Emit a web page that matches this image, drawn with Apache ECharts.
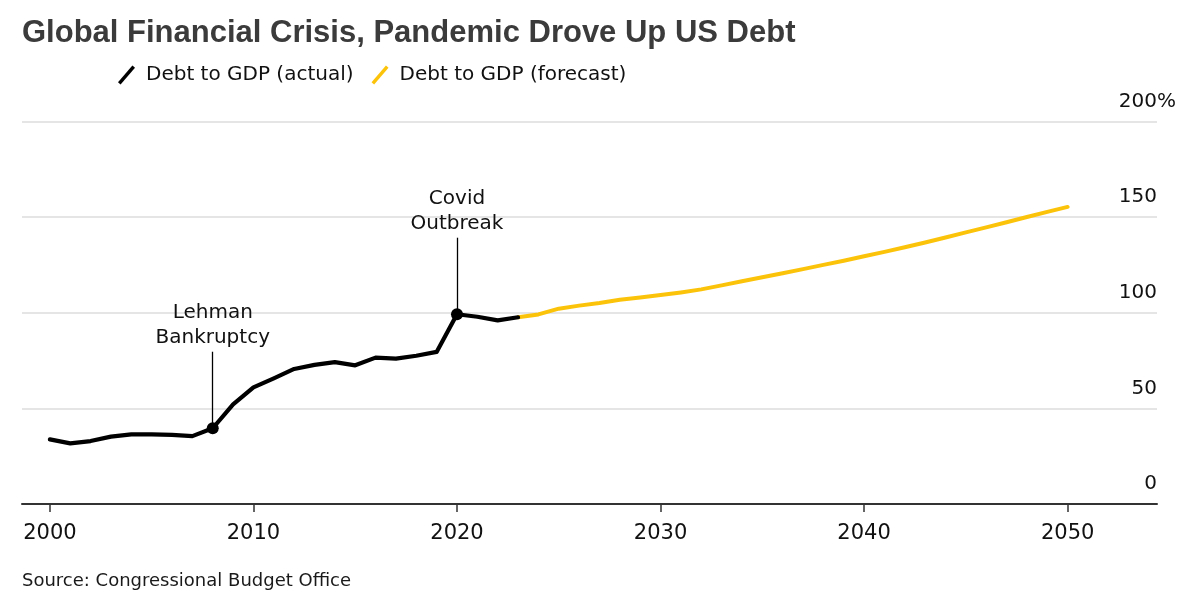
<!DOCTYPE html>
<html>
<head>
<meta charset="utf-8">
<script src="https://cdn.jsdelivr.net/npm/echarts@6/dist/echarts.min.js"></script>
<style>
html,body{margin:0;padding:0;background:#ffffff;}
#chart{width:1200px;height:604px;}
</style>
</head>
<body>
<div id="chart"></div>
<script>
// ---- data ----
const actualYears = [2000,2001,2002,2003,2004,2005,2006,2007,2008,2009,2010,2011,2012,2013,2014,2015,2016,2017,2018,2019,2020,2021,2022,2023];
const actualDebt  = [33.8,31.7,32.9,35.2,36.4,36.4,36.1,35.5,39.6,52.1,61.0,65.7,70.6,72.7,74.2,72.5,76.5,76.0,77.5,79.5,99.2,97.9,96.0,97.6];
const forecastYears = [2023,2024,2025,2026,2027,2028,2029,2030,2031,2032,2033,2034,2035,2036,2037,2038,2039,2040,2041,2042,2043,2044,2045,2046,2047,2048,2049,2050];
const forecastDebt  = [97.6,99.1,102.1,103.7,105.1,106.8,107.9,109.2,110.6,112.2,114.3,116.4,118.5,120.6,122.8,125.0,127.2,129.5,131.8,134.2,136.7,139.3,142.0,144.6,147.3,150.0,152.7,155.3];
const xTickYears = [2000,2010,2020,2030,2040,2050];
const seriesNames = ['Debt to GDP (actual)', 'Debt to GDP (forecast)'];
const eventYears = [2008, 2020];
const eventLabels = ['Lehman\nBankruptcy', 'Covid\nOutbreak'];

// ---- chart ----
const BODY_FONT = "'DejaVu Sans', sans-serif";
const chart = echarts.init(document.getElementById('chart'), null, {renderer: 'canvas'});

const pairs = (xs, ys) => xs.map((x, i) => [x, ys[i]]);
const eventValue = y => actualDebt[actualYears.indexOf(y)];
const STEM = 40;

const slashIcon = 'path://M0,16.6 L14.4,0 L17,2.3 L2.6,18.9 Z';

const option = {
  animation: false,
  backgroundColor: '#ffffff',
  title: [
    {
      text: 'Global Financial Crisis, Pandemic Drove Up US Debt',
      left: 17, top: 13, padding: 5,
      textStyle: {fontFamily: "'Liberation Sans', Arial, sans-serif", fontWeight: 'bold', fontSize: 31, color: '#3b3b3b'}
    },
    {
      text: 'Source: Congressional Budget Office',
      left: 17, top: 567, padding: 5,
      textStyle: {fontFamily: BODY_FONT, fontWeight: 'normal', fontSize: 18, color: '#1a1a1a'}
    }
  ],
  legend: {
    left: 113, top: 60, padding: 5,
    itemWidth: 17, itemHeight: 19, itemGap: 18,
    selectedMode: false,
    textStyle: {fontFamily: BODY_FONT, fontSize: 20, color: '#111', padding: [0, 0, 0, 6]},
    data: [
      {name: seriesNames[0], icon: slashIcon, itemStyle: {color: '#000000'}},
      {name: seriesNames[1], icon: slashIcon, itemStyle: {color: '#FCC30B'}}
    ]
  },
  grid: {left: 22, right: 43, top: 121.4, bottom: 100, containLabel: false},
  xAxis: {
    type: 'value',
    min: 1998.63, max: 2054.39,
    splitLine: {show: false},
    axisLine: {show: true, lineStyle: {color: '#333333', width: 2}},
    axisTick: {show: true, customValues: xTickYears, length: 8, lineStyle: {color: '#333333', width: 1.5}},
    axisLabel: {
      show: true, customValues: xTickYears, margin: 19,
      formatter: v => String(v),
      fontFamily: BODY_FONT, fontSize: 21, color: '#111'
    }
  },
  yAxis: {
    type: 'value',
    position: 'right',
    min: 0, max: 200, interval: 50,
    axisLine: {show: false},
    axisTick: {show: false},
    splitLine: {show: true, lineStyle: {color: '#dcdcdc', width: 1.6}},
    axisLabel: {
      show: true, inside: true, margin: -19,
      verticalAlign: 'bottom',
      padding: [0, 0, 10, 0],
      formatter: v => v === 200 ? v + '{p|%}' : v + '{h|%}',
      fontFamily: BODY_FONT, fontSize: 20, color: '#111',
      rich: {
        p: {fontFamily: BODY_FONT, fontSize: 20, color: '#111'},
        h: {fontFamily: BODY_FONT, fontSize: 20, color: 'rgba(0,0,0,0)'}
      }
    }
  },
  series: [
    {
      name: seriesNames[1],
      type: 'line',
      data: pairs(forecastYears, forecastDebt),
      showSymbol: false,
      symbol: 'none',
      lineStyle: {color: '#FCC30B', width: 4, cap: 'round', join: 'round'},
      itemStyle: {color: '#FCC30B'},
      z: 2
    },
    {
      name: seriesNames[0],
      type: 'line',
      data: pairs(actualYears, actualDebt),
      showSymbol: false,
      symbol: 'none',
      lineStyle: {color: '#000000', width: 4.2, cap: 'round', join: 'round'},
      itemStyle: {color: '#000000'},
      z: 3,
      markLine: {
        silent: true,
        symbol: ['none', 'none'],
        lineStyle: {color: '#000', width: 1.3, type: 'solid'},
        label: {
          show: true, position: 'end', distance: 1,
          fontFamily: BODY_FONT, fontSize: 20, lineHeight: 25, color: '#111', align: 'center'
        },
        emphasis: {disabled: true},
        data: eventYears.map((y, i) => [
          {coord: [y, eventValue(y)], label: {formatter: eventLabels[i]}},
          {coord: [y, eventValue(y) + STEM]}
        ])
      },
      markPoint: {
        silent: true,
        symbol: 'circle',
        symbolSize: 12,
        itemStyle: {color: '#000'},
        label: {show: false},
        data: eventYears.map(y => ({coord: [y, eventValue(y)]}))
      }
    }
  ]
};
chart.setOption(option);
</script>
</body>
</html>
